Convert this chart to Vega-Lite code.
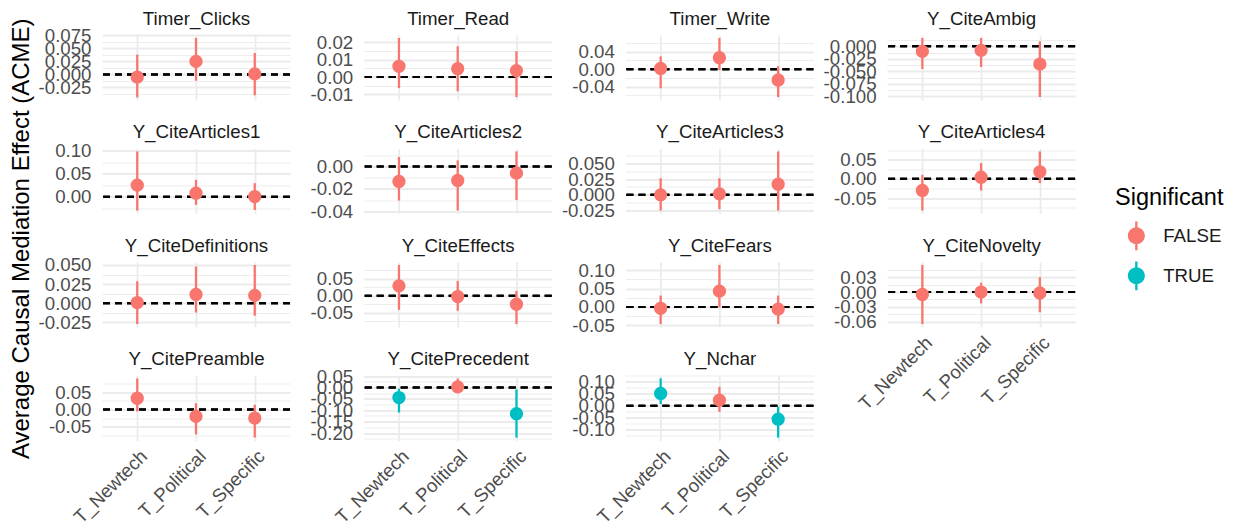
{
  "$schema": "https://vega.github.io/schema/vega-lite/v6.json",
  "background": "white",
  "padding": {"left": 10, "top": 9, "right": 5, "bottom": 5},
  "title": {"text": "Average Causal Mediation Effect (ACME)", "orient": "left", "anchor": "middle", "fontSize": 24, "color": "black", "fontWeight": "normal", "offset": 4, "dx": 29},
  "datasets": {
    "acme": [
      {"outcome": "Timer_Clicks", "treatment": "T_Newtech", "acme": -0.005, "lower": -0.044, "upper": 0.038, "sig": "FALSE"},
      {"outcome": "Timer_Clicks", "treatment": "T_Political", "acme": 0.025, "lower": -0.012, "upper": 0.070, "sig": "FALSE"},
      {"outcome": "Timer_Clicks", "treatment": "T_Specific", "acme": 0.001, "lower": -0.040, "upper": 0.041, "sig": "FALSE"},
      {"outcome": "Timer_Read", "treatment": "T_Newtech", "acme": 0.0062, "lower": -0.0064, "upper": 0.0226, "sig": "FALSE"},
      {"outcome": "Timer_Read", "treatment": "T_Political", "acme": 0.0048, "lower": -0.0083, "upper": 0.0178, "sig": "FALSE"},
      {"outcome": "Timer_Read", "treatment": "T_Specific", "acme": 0.0037, "lower": -0.0116, "upper": 0.0149, "sig": "FALSE"},
      {"outcome": "Timer_Write", "treatment": "T_Newtech", "acme": 0.0015, "lower": -0.0434, "upper": 0.029, "sig": "FALSE"},
      {"outcome": "Timer_Write", "treatment": "T_Political", "acme": 0.026, "lower": -0.0022, "upper": 0.071, "sig": "FALSE"},
      {"outcome": "Timer_Write", "treatment": "T_Specific", "acme": -0.0247, "lower": -0.0636, "upper": 0.0067, "sig": "FALSE"},
      {"outcome": "Y_CiteAmbig", "treatment": "T_Newtech", "acme": -0.010, "lower": -0.0453, "upper": 0.0167, "sig": "FALSE"},
      {"outcome": "Y_CiteAmbig", "treatment": "T_Political", "acme": -0.008, "lower": -0.0413, "upper": 0.0167, "sig": "FALSE"},
      {"outcome": "Y_CiteAmbig", "treatment": "T_Specific", "acme": -0.0353, "lower": -0.101, "upper": 0.010, "sig": "FALSE"},
      {"outcome": "Y_CiteArticles1", "treatment": "T_Newtech", "acme": 0.0254, "lower": -0.0297, "upper": 0.0986, "sig": "FALSE"},
      {"outcome": "Y_CiteArticles1", "treatment": "T_Political", "acme": 0.008, "lower": -0.0174, "upper": 0.037, "sig": "FALSE"},
      {"outcome": "Y_CiteArticles1", "treatment": "T_Specific", "acme": 0.0007, "lower": -0.0283, "upper": 0.0297, "sig": "FALSE"},
      {"outcome": "Y_CiteArticles2", "treatment": "T_Newtech", "acme": -0.0134, "lower": -0.0304, "upper": 0.0084, "sig": "FALSE"},
      {"outcome": "Y_CiteArticles2", "treatment": "T_Political", "acme": -0.0125, "lower": -0.0394, "upper": 0.0054, "sig": "FALSE"},
      {"outcome": "Y_CiteArticles2", "treatment": "T_Specific", "acme": -0.006, "lower": -0.0299, "upper": 0.0134, "sig": "FALSE"},
      {"outcome": "Y_CiteArticles3", "treatment": "T_Newtech", "acme": 0.0, "lower": -0.0248, "upper": 0.0264, "sig": "FALSE"},
      {"outcome": "Y_CiteArticles3", "treatment": "T_Political", "acme": 0.0016, "lower": -0.0227, "upper": 0.0264, "sig": "FALSE"},
      {"outcome": "Y_CiteArticles3", "treatment": "T_Specific", "acme": 0.0169, "lower": -0.0248, "upper": 0.0687, "sig": "FALSE"},
      {"outcome": "Y_CiteArticles4", "treatment": "T_Newtech", "acme": -0.0304, "lower": -0.0826, "upper": 0.0104, "sig": "FALSE"},
      {"outcome": "Y_CiteArticles4", "treatment": "T_Political", "acme": 0.0043, "lower": -0.0304, "upper": 0.041, "sig": "FALSE"},
      {"outcome": "Y_CiteArticles4", "treatment": "T_Specific", "acme": 0.0183, "lower": -0.0113, "upper": 0.0713, "sig": "FALSE"},
      {"outcome": "Y_CiteDefinitions", "treatment": "T_Newtech", "acme": 0.001, "lower": -0.027, "upper": 0.0287, "sig": "FALSE"},
      {"outcome": "Y_CiteDefinitions", "treatment": "T_Political", "acme": 0.0116, "lower": -0.012, "upper": 0.048, "sig": "FALSE"},
      {"outcome": "Y_CiteDefinitions", "treatment": "T_Specific", "acme": 0.0103, "lower": -0.0163, "upper": 0.050, "sig": "FALSE"},
      {"outcome": "Y_CiteEffects", "treatment": "T_Newtech", "acme": 0.0294, "lower": -0.0412, "upper": 0.091, "sig": "FALSE"},
      {"outcome": "Y_CiteEffects", "treatment": "T_Political", "acme": -0.002, "lower": -0.044, "upper": 0.044, "sig": "FALSE"},
      {"outcome": "Y_CiteEffects", "treatment": "T_Specific", "acme": -0.0245, "lower": -0.083, "upper": 0.0147, "sig": "FALSE"},
      {"outcome": "Y_CiteFears", "treatment": "T_Newtech", "acme": -0.0036, "lower": -0.0464, "upper": 0.031, "sig": "FALSE"},
      {"outcome": "Y_CiteFears", "treatment": "T_Political", "acme": 0.0429, "lower": -0.001, "upper": 0.114, "sig": "FALSE"},
      {"outcome": "Y_CiteFears", "treatment": "T_Specific", "acme": -0.006, "lower": -0.046, "upper": 0.031, "sig": "FALSE"},
      {"outcome": "Y_CiteNovelty", "treatment": "T_Newtech", "acme": -0.005, "lower": -0.065, "upper": 0.055, "sig": "FALSE"},
      {"outcome": "Y_CiteNovelty", "treatment": "T_Political", "acme": 0.0, "lower": -0.023, "upper": 0.019, "sig": "FALSE"},
      {"outcome": "Y_CiteNovelty", "treatment": "T_Specific", "acme": -0.002, "lower": -0.041, "upper": 0.030, "sig": "FALSE"},
      {"outcome": "Y_CitePreamble", "treatment": "T_Newtech", "acme": 0.0324, "lower": -0.0057, "upper": 0.0895, "sig": "FALSE"},
      {"outcome": "Y_CitePreamble", "treatment": "T_Political", "acme": -0.020, "lower": -0.072, "upper": 0.018, "sig": "FALSE"},
      {"outcome": "Y_CitePreamble", "treatment": "T_Specific", "acme": -0.0248, "lower": -0.081, "upper": 0.0133, "sig": "FALSE"},
      {"outcome": "Y_CitePrecedent", "treatment": "T_Newtech", "acme": -0.044, "lower": -0.110, "upper": -0.005, "sig": "TRUE"},
      {"outcome": "Y_CitePrecedent", "treatment": "T_Political", "acme": 0.003, "lower": -0.020, "upper": 0.040, "sig": "FALSE"},
      {"outcome": "Y_CitePrecedent", "treatment": "T_Specific", "acme": -0.115, "lower": -0.220, "upper": -0.008, "sig": "TRUE"},
      {"outcome": "Y_Nchar", "treatment": "T_Newtech", "acme": 0.0514, "lower": 0.007, "upper": 0.114, "sig": "TRUE"},
      {"outcome": "Y_Nchar", "treatment": "T_Political", "acme": 0.0236, "lower": -0.025, "upper": 0.079, "sig": "FALSE"},
      {"outcome": "Y_Nchar", "treatment": "T_Specific", "acme": -0.0556, "lower": -0.132, "upper": -0.003, "sig": "TRUE"}
    ]
  },
  "data": {"name": "acme"},
  "columns": 4,
  "bounds": "flush",
  "spacing": {"row": 48.5, "column": 73.7},
  "resolve": {"scale": {"color": "shared"}, "legend": {"color": "shared"}},
  "concat": [
    {
      "width": 188, "height": 65,
      "transform": [{"filter": "datum.outcome === 'Timer_Clicks'"}],
      "resolve": {"axis": {"x": "independent"}},
      "encoding": {"y": {"field": "acme", "type": "quantitative", "title": null,
        "scale": {"domain": [-0.049, 0.0756], "nice": false, "zero": false},
        "axis": {"values": [-0.025, 0, 0.025, 0.05, 0.075, -0.0375, -0.0125, 0.0125, 0.0375, 0.0625],
          "labelExpr": "indexof([-0.025, 0, 0.025, 0.05, 0.075], datum.value) >= 0 ? replace(format(datum.value, '.3f'), '\u2212', '-') : ''",
          "gridWidth": {"condition": {"test": "indexof([-0.025, 0, 0.025, 0.05, 0.075], datum.value) >= 0", "value": 1.8}, "value": 0.9}}}},
      "layer": [
        {"mark": {"type": "rule", "color": "black", "strokeWidth": 2, "strokeDash": [7, 5]}, "encoding": {"y": {"datum": 0}}},
        {"mark": {"type": "rule", "strokeWidth": 2.3}, "encoding": {
          "x": {"field": "treatment", "type": "nominal", "title": null, "scale": {"type": "point", "padding": 0.6, "domain": ["T_Newtech", "T_Political", "T_Specific"]}, "axis": {"orient": "bottom", "labels": false, "grid": true, "gridWidth": 1.8}},
          "y": {"field": "lower", "type": "quantitative", "title": null}, "y2": {"field": "upper"},
          "color": {"field": "sig", "type": "nominal", "title": "Significant", "scale": {"domain": ["FALSE", "TRUE"], "range": ["#F8766D", "#00BFC4"]}}}},
        {"mark": {"type": "circle", "size": 177, "opacity": 1}, "encoding": {
          "x": {"field": "treatment", "type": "nominal", "scale": {"type": "point", "padding": 0.6, "domain": ["T_Newtech", "T_Political", "T_Specific"]}, "axis": {"orient": "top", "title": "Timer_Clicks", "labels": false, "grid": false}},
          "color": {"field": "sig", "type": "nominal", "title": "Significant", "scale": {"domain": ["FALSE", "TRUE"], "range": ["#F8766D", "#00BFC4"]}}}}
      ]
    },
    {
      "width": 188, "height": 65,
      "transform": [{"filter": "datum.outcome === 'Timer_Read'"}],
      "resolve": {"axis": {"x": "independent"}},
      "encoding": {"y": {"field": "acme", "type": "quantitative", "title": null,
        "scale": {"domain": [-0.0133, 0.0243], "nice": false, "zero": false},
        "axis": {"values": [-0.01, 0, 0.01, 0.02, -0.005, 0.005, 0.015],
          "labelExpr": "indexof([-0.01, 0, 0.01, 0.02], datum.value) >= 0 ? replace(format(datum.value, '.2f'), '\u2212', '-') : ''",
          "gridWidth": {"condition": {"test": "indexof([-0.01, 0, 0.01, 0.02], datum.value) >= 0", "value": 1.8}, "value": 0.9}}}},
      "layer": [
        {"mark": {"type": "rule", "color": "black", "strokeWidth": 2, "strokeDash": [7, 5]}, "encoding": {"y": {"datum": 0}}},
        {"mark": {"type": "rule", "strokeWidth": 2.3}, "encoding": {
          "x": {"field": "treatment", "type": "nominal", "title": null, "scale": {"type": "point", "padding": 0.6, "domain": ["T_Newtech", "T_Political", "T_Specific"]}, "axis": {"orient": "bottom", "labels": false, "grid": true, "gridWidth": 1.8}},
          "y": {"field": "lower", "type": "quantitative", "title": null}, "y2": {"field": "upper"},
          "color": {"field": "sig", "type": "nominal", "title": "Significant", "scale": {"domain": ["FALSE", "TRUE"], "range": ["#F8766D", "#00BFC4"]}}}},
        {"mark": {"type": "circle", "size": 177, "opacity": 1}, "encoding": {
          "x": {"field": "treatment", "type": "nominal", "scale": {"type": "point", "padding": 0.6, "domain": ["T_Newtech", "T_Political", "T_Specific"]}, "axis": {"orient": "top", "title": "Timer_Read", "labels": false, "grid": false}},
          "color": {"field": "sig", "type": "nominal", "title": "Significant", "scale": {"domain": ["FALSE", "TRUE"], "range": ["#F8766D", "#00BFC4"]}}}}
      ]
    },
    {
      "width": 188, "height": 65,
      "transform": [{"filter": "datum.outcome === 'Timer_Write'"}],
      "resolve": {"axis": {"x": "independent"}},
      "encoding": {"y": {"field": "acme", "type": "quantitative", "title": null,
        "scale": {"domain": [-0.0703, 0.0777], "nice": false, "zero": false},
        "axis": {"values": [-0.04, 0, 0.04, -0.06, -0.02, 0.02, 0.06],
          "labelExpr": "indexof([-0.04, 0, 0.04], datum.value) >= 0 ? replace(format(datum.value, '.2f'), '\u2212', '-') : ''",
          "gridWidth": {"condition": {"test": "indexof([-0.04, 0, 0.04], datum.value) >= 0", "value": 1.8}, "value": 0.9}}}},
      "layer": [
        {"mark": {"type": "rule", "color": "black", "strokeWidth": 2, "strokeDash": [7, 5]}, "encoding": {"y": {"datum": 0}}},
        {"mark": {"type": "rule", "strokeWidth": 2.3}, "encoding": {
          "x": {"field": "treatment", "type": "nominal", "title": null, "scale": {"type": "point", "padding": 0.6, "domain": ["T_Newtech", "T_Political", "T_Specific"]}, "axis": {"orient": "bottom", "labels": false, "grid": true, "gridWidth": 1.8}},
          "y": {"field": "lower", "type": "quantitative", "title": null}, "y2": {"field": "upper"},
          "color": {"field": "sig", "type": "nominal", "title": "Significant", "scale": {"domain": ["FALSE", "TRUE"], "range": ["#F8766D", "#00BFC4"]}}}},
        {"mark": {"type": "circle", "size": 177, "opacity": 1}, "encoding": {
          "x": {"field": "treatment", "type": "nominal", "scale": {"type": "point", "padding": 0.6, "domain": ["T_Newtech", "T_Political", "T_Specific"]}, "axis": {"orient": "top", "title": "Timer_Write", "labels": false, "grid": false}},
          "color": {"field": "sig", "type": "nominal", "title": "Significant", "scale": {"domain": ["FALSE", "TRUE"], "range": ["#F8766D", "#00BFC4"]}}}}
      ]
    },
    {
      "width": 188, "height": 65,
      "transform": [{"filter": "datum.outcome === 'Y_CiteAmbig'"}],
      "resolve": {"axis": {"x": "independent"}},
      "encoding": {"y": {"field": "acme", "type": "quantitative", "title": null,
        "scale": {"domain": [-0.107, 0.0226], "nice": false, "zero": false},
        "axis": {"values": [-0.1, -0.075, -0.05, -0.025, 0, -0.0875, -0.0625, -0.0375, -0.0125, 0.0125],
          "labelExpr": "indexof([-0.1, -0.075, -0.05, -0.025, 0], datum.value) >= 0 ? replace(format(datum.value, '.3f'), '\u2212', '-') : ''",
          "gridWidth": {"condition": {"test": "indexof([-0.1, -0.075, -0.05, -0.025, 0], datum.value) >= 0", "value": 1.8}, "value": 0.9}}}},
      "layer": [
        {"mark": {"type": "rule", "color": "black", "strokeWidth": 2, "strokeDash": [7, 5]}, "encoding": {"y": {"datum": 0}}},
        {"mark": {"type": "rule", "strokeWidth": 2.3}, "encoding": {
          "x": {"field": "treatment", "type": "nominal", "title": null, "scale": {"type": "point", "padding": 0.6, "domain": ["T_Newtech", "T_Political", "T_Specific"]}, "axis": {"orient": "bottom", "labels": false, "grid": true, "gridWidth": 1.8}},
          "y": {"field": "lower", "type": "quantitative", "title": null}, "y2": {"field": "upper"},
          "color": {"field": "sig", "type": "nominal", "title": "Significant", "scale": {"domain": ["FALSE", "TRUE"], "range": ["#F8766D", "#00BFC4"]}}}},
        {"mark": {"type": "circle", "size": 177, "opacity": 1}, "encoding": {
          "x": {"field": "treatment", "type": "nominal", "scale": {"type": "point", "padding": 0.6, "domain": ["T_Newtech", "T_Political", "T_Specific"]}, "axis": {"orient": "top", "title": "Y_CiteAmbig", "labels": false, "grid": false}},
          "color": {"field": "sig", "type": "nominal", "title": "Significant", "scale": {"domain": ["FALSE", "TRUE"], "range": ["#F8766D", "#00BFC4"]}}}}
      ]
    },
    {
      "width": 188, "height": 65,
      "transform": [{"filter": "datum.outcome === 'Y_CiteArticles1'"}],
      "resolve": {"axis": {"x": "independent"}},
      "encoding": {"y": {"field": "acme", "type": "quantitative", "title": null,
        "scale": {"domain": [-0.0361, 0.105], "nice": false, "zero": false},
        "axis": {"values": [0, 0.05, 0.1, -0.025, 0.025, 0.075],
          "labelExpr": "indexof([0, 0.05, 0.1], datum.value) >= 0 ? replace(format(datum.value, '.2f'), '\u2212', '-') : ''",
          "gridWidth": {"condition": {"test": "indexof([0, 0.05, 0.1], datum.value) >= 0", "value": 1.8}, "value": 0.9}}}},
      "layer": [
        {"mark": {"type": "rule", "color": "black", "strokeWidth": 2, "strokeDash": [7, 5]}, "encoding": {"y": {"datum": 0}}},
        {"mark": {"type": "rule", "strokeWidth": 2.3}, "encoding": {
          "x": {"field": "treatment", "type": "nominal", "title": null, "scale": {"type": "point", "padding": 0.6, "domain": ["T_Newtech", "T_Political", "T_Specific"]}, "axis": {"orient": "bottom", "labels": false, "grid": true, "gridWidth": 1.8}},
          "y": {"field": "lower", "type": "quantitative", "title": null}, "y2": {"field": "upper"},
          "color": {"field": "sig", "type": "nominal", "title": "Significant", "scale": {"domain": ["FALSE", "TRUE"], "range": ["#F8766D", "#00BFC4"]}}}},
        {"mark": {"type": "circle", "size": 177, "opacity": 1}, "encoding": {
          "x": {"field": "treatment", "type": "nominal", "scale": {"type": "point", "padding": 0.6, "domain": ["T_Newtech", "T_Political", "T_Specific"]}, "axis": {"orient": "top", "title": "Y_CiteArticles1", "labels": false, "grid": false}},
          "color": {"field": "sig", "type": "nominal", "title": "Significant", "scale": {"domain": ["FALSE", "TRUE"], "range": ["#F8766D", "#00BFC4"]}}}}
      ]
    },
    {
      "width": 188, "height": 65,
      "transform": [{"filter": "datum.outcome === 'Y_CiteArticles2'"}],
      "resolve": {"axis": {"x": "independent"}},
      "encoding": {"y": {"field": "acme", "type": "quantitative", "title": null,
        "scale": {"domain": [-0.042, 0.016], "nice": false, "zero": false},
        "axis": {"values": [-0.04, -0.02, 0, -0.03, -0.01, 0.01],
          "labelExpr": "indexof([-0.04, -0.02, 0], datum.value) >= 0 ? replace(format(datum.value, '.2f'), '\u2212', '-') : ''",
          "gridWidth": {"condition": {"test": "indexof([-0.04, -0.02, 0], datum.value) >= 0", "value": 1.8}, "value": 0.9}}}},
      "layer": [
        {"mark": {"type": "rule", "color": "black", "strokeWidth": 2, "strokeDash": [7, 5]}, "encoding": {"y": {"datum": 0}}},
        {"mark": {"type": "rule", "strokeWidth": 2.3}, "encoding": {
          "x": {"field": "treatment", "type": "nominal", "title": null, "scale": {"type": "point", "padding": 0.6, "domain": ["T_Newtech", "T_Political", "T_Specific"]}, "axis": {"orient": "bottom", "labels": false, "grid": true, "gridWidth": 1.8}},
          "y": {"field": "lower", "type": "quantitative", "title": null}, "y2": {"field": "upper"},
          "color": {"field": "sig", "type": "nominal", "title": "Significant", "scale": {"domain": ["FALSE", "TRUE"], "range": ["#F8766D", "#00BFC4"]}}}},
        {"mark": {"type": "circle", "size": 177, "opacity": 1}, "encoding": {
          "x": {"field": "treatment", "type": "nominal", "scale": {"type": "point", "padding": 0.6, "domain": ["T_Newtech", "T_Political", "T_Specific"]}, "axis": {"orient": "top", "title": "Y_CiteArticles2", "labels": false, "grid": false}},
          "color": {"field": "sig", "type": "nominal", "title": "Significant", "scale": {"domain": ["FALSE", "TRUE"], "range": ["#F8766D", "#00BFC4"]}}}}
      ]
    },
    {
      "width": 188, "height": 65,
      "transform": [{"filter": "datum.outcome === 'Y_CiteArticles3'"}],
      "resolve": {"axis": {"x": "independent"}},
      "encoding": {"y": {"field": "acme", "type": "quantitative", "title": null,
        "scale": {"domain": [-0.0295, 0.0734], "nice": false, "zero": false},
        "axis": {"values": [-0.025, 0, 0.025, 0.05, -0.0125, 0.0125, 0.0375, 0.0625],
          "labelExpr": "indexof([-0.025, 0, 0.025, 0.05], datum.value) >= 0 ? replace(format(datum.value, '.3f'), '\u2212', '-') : ''",
          "gridWidth": {"condition": {"test": "indexof([-0.025, 0, 0.025, 0.05], datum.value) >= 0", "value": 1.8}, "value": 0.9}}}},
      "layer": [
        {"mark": {"type": "rule", "color": "black", "strokeWidth": 2, "strokeDash": [7, 5]}, "encoding": {"y": {"datum": 0}}},
        {"mark": {"type": "rule", "strokeWidth": 2.3}, "encoding": {
          "x": {"field": "treatment", "type": "nominal", "title": null, "scale": {"type": "point", "padding": 0.6, "domain": ["T_Newtech", "T_Political", "T_Specific"]}, "axis": {"orient": "bottom", "labels": false, "grid": true, "gridWidth": 1.8}},
          "y": {"field": "lower", "type": "quantitative", "title": null}, "y2": {"field": "upper"},
          "color": {"field": "sig", "type": "nominal", "title": "Significant", "scale": {"domain": ["FALSE", "TRUE"], "range": ["#F8766D", "#00BFC4"]}}}},
        {"mark": {"type": "circle", "size": 177, "opacity": 1}, "encoding": {
          "x": {"field": "treatment", "type": "nominal", "scale": {"type": "point", "padding": 0.6, "domain": ["T_Newtech", "T_Political", "T_Specific"]}, "axis": {"orient": "top", "title": "Y_CiteArticles3", "labels": false, "grid": false}},
          "color": {"field": "sig", "type": "nominal", "title": "Significant", "scale": {"domain": ["FALSE", "TRUE"], "range": ["#F8766D", "#00BFC4"]}}}}
      ]
    },
    {
      "width": 188, "height": 65,
      "transform": [{"filter": "datum.outcome === 'Y_CiteArticles4'"}],
      "resolve": {"axis": {"x": "independent"}},
      "encoding": {"y": {"field": "acme", "type": "quantitative", "title": null,
        "scale": {"domain": [-0.0903, 0.079], "nice": false, "zero": false},
        "axis": {"values": [-0.05, 0, 0.05, -0.075, -0.025, 0.025, 0.075],
          "labelExpr": "indexof([-0.05, 0, 0.05], datum.value) >= 0 ? replace(format(datum.value, '.2f'), '\u2212', '-') : ''",
          "gridWidth": {"condition": {"test": "indexof([-0.05, 0, 0.05], datum.value) >= 0", "value": 1.8}, "value": 0.9}}}},
      "layer": [
        {"mark": {"type": "rule", "color": "black", "strokeWidth": 2, "strokeDash": [7, 5]}, "encoding": {"y": {"datum": 0}}},
        {"mark": {"type": "rule", "strokeWidth": 2.3}, "encoding": {
          "x": {"field": "treatment", "type": "nominal", "title": null, "scale": {"type": "point", "padding": 0.6, "domain": ["T_Newtech", "T_Political", "T_Specific"]}, "axis": {"orient": "bottom", "labels": false, "grid": true, "gridWidth": 1.8}},
          "y": {"field": "lower", "type": "quantitative", "title": null}, "y2": {"field": "upper"},
          "color": {"field": "sig", "type": "nominal", "title": "Significant", "scale": {"domain": ["FALSE", "TRUE"], "range": ["#F8766D", "#00BFC4"]}}}},
        {"mark": {"type": "circle", "size": 177, "opacity": 1}, "encoding": {
          "x": {"field": "treatment", "type": "nominal", "scale": {"type": "point", "padding": 0.6, "domain": ["T_Newtech", "T_Political", "T_Specific"]}, "axis": {"orient": "top", "title": "Y_CiteArticles4", "labels": false, "grid": false}},
          "color": {"field": "sig", "type": "nominal", "title": "Significant", "scale": {"domain": ["FALSE", "TRUE"], "range": ["#F8766D", "#00BFC4"]}}}}
      ]
    },
    {
      "width": 188, "height": 65,
      "transform": [{"filter": "datum.outcome === 'Y_CiteDefinitions'"}],
      "resolve": {"axis": {"x": "independent"}},
      "encoding": {"y": {"field": "acme", "type": "quantitative", "title": null,
        "scale": {"domain": [-0.0309, 0.0539], "nice": false, "zero": false},
        "axis": {"values": [-0.025, 0, 0.025, 0.05, -0.0125, 0.0125, 0.0375],
          "labelExpr": "indexof([-0.025, 0, 0.025, 0.05], datum.value) >= 0 ? replace(format(datum.value, '.3f'), '\u2212', '-') : ''",
          "gridWidth": {"condition": {"test": "indexof([-0.025, 0, 0.025, 0.05], datum.value) >= 0", "value": 1.8}, "value": 0.9}}}},
      "layer": [
        {"mark": {"type": "rule", "color": "black", "strokeWidth": 2, "strokeDash": [7, 5]}, "encoding": {"y": {"datum": 0}}},
        {"mark": {"type": "rule", "strokeWidth": 2.3}, "encoding": {
          "x": {"field": "treatment", "type": "nominal", "title": null, "scale": {"type": "point", "padding": 0.6, "domain": ["T_Newtech", "T_Political", "T_Specific"]}, "axis": {"orient": "bottom", "labels": false, "grid": true, "gridWidth": 1.8}},
          "y": {"field": "lower", "type": "quantitative", "title": null}, "y2": {"field": "upper"},
          "color": {"field": "sig", "type": "nominal", "title": "Significant", "scale": {"domain": ["FALSE", "TRUE"], "range": ["#F8766D", "#00BFC4"]}}}},
        {"mark": {"type": "circle", "size": 177, "opacity": 1}, "encoding": {
          "x": {"field": "treatment", "type": "nominal", "scale": {"type": "point", "padding": 0.6, "domain": ["T_Newtech", "T_Political", "T_Specific"]}, "axis": {"orient": "top", "title": "Y_CiteDefinitions", "labels": false, "grid": false}},
          "color": {"field": "sig", "type": "nominal", "title": "Significant", "scale": {"domain": ["FALSE", "TRUE"], "range": ["#F8766D", "#00BFC4"]}}}}
      ]
    },
    {
      "width": 188, "height": 65,
      "transform": [{"filter": "datum.outcome === 'Y_CiteEffects'"}],
      "resolve": {"axis": {"x": "independent"}},
      "encoding": {"y": {"field": "acme", "type": "quantitative", "title": null,
        "scale": {"domain": [-0.0917, 0.0997], "nice": false, "zero": false},
        "axis": {"values": [-0.05, 0, 0.05, -0.075, -0.025, 0.025, 0.075],
          "labelExpr": "indexof([-0.05, 0, 0.05], datum.value) >= 0 ? replace(format(datum.value, '.2f'), '\u2212', '-') : ''",
          "gridWidth": {"condition": {"test": "indexof([-0.05, 0, 0.05], datum.value) >= 0", "value": 1.8}, "value": 0.9}}}},
      "layer": [
        {"mark": {"type": "rule", "color": "black", "strokeWidth": 2, "strokeDash": [7, 5]}, "encoding": {"y": {"datum": 0}}},
        {"mark": {"type": "rule", "strokeWidth": 2.3}, "encoding": {
          "x": {"field": "treatment", "type": "nominal", "title": null, "scale": {"type": "point", "padding": 0.6, "domain": ["T_Newtech", "T_Political", "T_Specific"]}, "axis": {"orient": "bottom", "labels": false, "grid": true, "gridWidth": 1.8}},
          "y": {"field": "lower", "type": "quantitative", "title": null}, "y2": {"field": "upper"},
          "color": {"field": "sig", "type": "nominal", "title": "Significant", "scale": {"domain": ["FALSE", "TRUE"], "range": ["#F8766D", "#00BFC4"]}}}},
        {"mark": {"type": "circle", "size": 177, "opacity": 1}, "encoding": {
          "x": {"field": "treatment", "type": "nominal", "scale": {"type": "point", "padding": 0.6, "domain": ["T_Newtech", "T_Political", "T_Specific"]}, "axis": {"orient": "top", "title": "Y_CiteEffects", "labels": false, "grid": false}},
          "color": {"field": "sig", "type": "nominal", "title": "Significant", "scale": {"domain": ["FALSE", "TRUE"], "range": ["#F8766D", "#00BFC4"]}}}}
      ]
    },
    {
      "width": 188, "height": 65,
      "transform": [{"filter": "datum.outcome === 'Y_CiteFears'"}],
      "resolve": {"axis": {"x": "independent"}},
      "encoding": {"y": {"field": "acme", "type": "quantitative", "title": null,
        "scale": {"domain": [-0.0544, 0.122], "nice": false, "zero": false},
        "axis": {"values": [-0.05, 0, 0.05, 0.1, -0.025, 0.025, 0.075],
          "labelExpr": "indexof([-0.05, 0, 0.05, 0.1], datum.value) >= 0 ? replace(format(datum.value, '.2f'), '\u2212', '-') : ''",
          "gridWidth": {"condition": {"test": "indexof([-0.05, 0, 0.05, 0.1], datum.value) >= 0", "value": 1.8}, "value": 0.9}}}},
      "layer": [
        {"mark": {"type": "rule", "color": "black", "strokeWidth": 2, "strokeDash": [7, 5]}, "encoding": {"y": {"datum": 0}}},
        {"mark": {"type": "rule", "strokeWidth": 2.3}, "encoding": {
          "x": {"field": "treatment", "type": "nominal", "title": null, "scale": {"type": "point", "padding": 0.6, "domain": ["T_Newtech", "T_Political", "T_Specific"]}, "axis": {"orient": "bottom", "labels": false, "grid": true, "gridWidth": 1.8}},
          "y": {"field": "lower", "type": "quantitative", "title": null}, "y2": {"field": "upper"},
          "color": {"field": "sig", "type": "nominal", "title": "Significant", "scale": {"domain": ["FALSE", "TRUE"], "range": ["#F8766D", "#00BFC4"]}}}},
        {"mark": {"type": "circle", "size": 177, "opacity": 1}, "encoding": {
          "x": {"field": "treatment", "type": "nominal", "scale": {"type": "point", "padding": 0.6, "domain": ["T_Newtech", "T_Political", "T_Specific"]}, "axis": {"orient": "top", "title": "Y_CiteFears", "labels": false, "grid": false}},
          "color": {"field": "sig", "type": "nominal", "title": "Significant", "scale": {"domain": ["FALSE", "TRUE"], "range": ["#F8766D", "#00BFC4"]}}}}
      ]
    },
    {
      "width": 188, "height": 65,
      "transform": [{"filter": "datum.outcome === 'Y_CiteNovelty'"}],
      "resolve": {"axis": {"x": "independent"}},
      "encoding": {"y": {"field": "acme", "type": "quantitative", "title": null,
        "scale": {"domain": [-0.071, 0.061], "nice": false, "zero": false},
        "axis": {"values": [-0.06, -0.03, 0, 0.03, -0.045, -0.015, 0.015, 0.045],
          "labelExpr": "indexof([-0.06, -0.03, 0, 0.03], datum.value) >= 0 ? replace(format(datum.value, '.2f'), '\u2212', '-') : ''",
          "gridWidth": {"condition": {"test": "indexof([-0.06, -0.03, 0, 0.03], datum.value) >= 0", "value": 1.8}, "value": 0.9}}}},
      "layer": [
        {"mark": {"type": "rule", "color": "black", "strokeWidth": 2, "strokeDash": [7, 5]}, "encoding": {"y": {"datum": 0}}},
        {"mark": {"type": "rule", "strokeWidth": 2.3}, "encoding": {
          "x": {"field": "treatment", "type": "nominal", "title": null, "scale": {"type": "point", "padding": 0.6, "domain": ["T_Newtech", "T_Political", "T_Specific"]}, "axis": {"orient": "bottom", "labelAngle": -45, "labelAlign": "right", "labelBaseline": "top", "labelPadding": 6, "grid": true, "gridWidth": 1.8}},
          "y": {"field": "lower", "type": "quantitative", "title": null}, "y2": {"field": "upper"},
          "color": {"field": "sig", "type": "nominal", "title": "Significant", "scale": {"domain": ["FALSE", "TRUE"], "range": ["#F8766D", "#00BFC4"]}}}},
        {"mark": {"type": "circle", "size": 177, "opacity": 1}, "encoding": {
          "x": {"field": "treatment", "type": "nominal", "scale": {"type": "point", "padding": 0.6, "domain": ["T_Newtech", "T_Political", "T_Specific"]}, "axis": {"orient": "top", "title": "Y_CiteNovelty", "labels": false, "grid": false}},
          "color": {"field": "sig", "type": "nominal", "title": "Significant", "scale": {"domain": ["FALSE", "TRUE"], "range": ["#F8766D", "#00BFC4"]}}}}
      ]
    },
    {
      "width": 188, "height": 65,
      "transform": [{"filter": "datum.outcome === 'Y_CitePreamble'"}],
      "resolve": {"axis": {"x": "independent"}},
      "encoding": {"y": {"field": "acme", "type": "quantitative", "title": null,
        "scale": {"domain": [-0.0895, 0.098], "nice": false, "zero": false},
        "axis": {"values": [-0.05, 0, 0.05, -0.075, -0.025, 0.025, 0.075],
          "labelExpr": "indexof([-0.05, 0, 0.05], datum.value) >= 0 ? replace(format(datum.value, '.2f'), '\u2212', '-') : ''",
          "gridWidth": {"condition": {"test": "indexof([-0.05, 0, 0.05], datum.value) >= 0", "value": 1.8}, "value": 0.9}}}},
      "layer": [
        {"mark": {"type": "rule", "color": "black", "strokeWidth": 2, "strokeDash": [7, 5]}, "encoding": {"y": {"datum": 0}}},
        {"mark": {"type": "rule", "strokeWidth": 2.3}, "encoding": {
          "x": {"field": "treatment", "type": "nominal", "title": null, "scale": {"type": "point", "padding": 0.6, "domain": ["T_Newtech", "T_Political", "T_Specific"]}, "axis": {"orient": "bottom", "labelAngle": -45, "labelAlign": "right", "labelBaseline": "top", "labelPadding": 6, "grid": true, "gridWidth": 1.8}},
          "y": {"field": "lower", "type": "quantitative", "title": null}, "y2": {"field": "upper"},
          "color": {"field": "sig", "type": "nominal", "title": "Significant", "scale": {"domain": ["FALSE", "TRUE"], "range": ["#F8766D", "#00BFC4"]}}}},
        {"mark": {"type": "circle", "size": 177, "opacity": 1}, "encoding": {
          "x": {"field": "treatment", "type": "nominal", "scale": {"type": "point", "padding": 0.6, "domain": ["T_Newtech", "T_Political", "T_Specific"]}, "axis": {"orient": "top", "title": "Y_CitePreamble", "labels": false, "grid": false}},
          "color": {"field": "sig", "type": "nominal", "title": "Significant", "scale": {"domain": ["FALSE", "TRUE"], "range": ["#F8766D", "#00BFC4"]}}}}
      ]
    },
    {
      "width": 188, "height": 65,
      "transform": [{"filter": "datum.outcome === 'Y_CitePrecedent'"}],
      "resolve": {"axis": {"x": "independent"}},
      "encoding": {"y": {"field": "acme", "type": "quantitative", "title": null,
        "scale": {"domain": [-0.233, 0.053], "nice": false, "zero": false},
        "axis": {"values": [-0.2, -0.15, -0.1, -0.05, 0, 0.05, -0.225, -0.175, -0.125, -0.075, -0.025, 0.025],
          "labelExpr": "indexof([-0.2, -0.15, -0.1, -0.05, 0, 0.05], datum.value) >= 0 ? replace(format(datum.value, '.2f'), '\u2212', '-') : ''",
          "gridWidth": {"condition": {"test": "indexof([-0.2, -0.15, -0.1, -0.05, 0, 0.05], datum.value) >= 0", "value": 1.8}, "value": 0.9}}}},
      "layer": [
        {"mark": {"type": "rule", "color": "black", "strokeWidth": 2, "strokeDash": [7, 5]}, "encoding": {"y": {"datum": 0}}},
        {"mark": {"type": "rule", "strokeWidth": 2.3}, "encoding": {
          "x": {"field": "treatment", "type": "nominal", "title": null, "scale": {"type": "point", "padding": 0.6, "domain": ["T_Newtech", "T_Political", "T_Specific"]}, "axis": {"orient": "bottom", "labelAngle": -45, "labelAlign": "right", "labelBaseline": "top", "labelPadding": 6, "grid": true, "gridWidth": 1.8}},
          "y": {"field": "lower", "type": "quantitative", "title": null}, "y2": {"field": "upper"},
          "color": {"field": "sig", "type": "nominal", "title": "Significant", "scale": {"domain": ["FALSE", "TRUE"], "range": ["#F8766D", "#00BFC4"]}}}},
        {"mark": {"type": "circle", "size": 177, "opacity": 1}, "encoding": {
          "x": {"field": "treatment", "type": "nominal", "scale": {"type": "point", "padding": 0.6, "domain": ["T_Newtech", "T_Political", "T_Specific"]}, "axis": {"orient": "top", "title": "Y_CitePrecedent", "labels": false, "grid": false}},
          "color": {"field": "sig", "type": "nominal", "title": "Significant", "scale": {"domain": ["FALSE", "TRUE"], "range": ["#F8766D", "#00BFC4"]}}}}
      ]
    },
    {
      "width": 188, "height": 65,
      "transform": [{"filter": "datum.outcome === 'Y_Nchar'"}],
      "resolve": {"axis": {"x": "independent"}},
      "encoding": {"y": {"field": "acme", "type": "quantitative", "title": null,
        "scale": {"domain": [-0.144, 0.126], "nice": false, "zero": false},
        "axis": {"values": [-0.1, -0.05, 0, 0.05, 0.1, -0.125, -0.075, -0.025, 0.025, 0.075, 0.125],
          "labelExpr": "indexof([-0.1, -0.05, 0, 0.05, 0.1], datum.value) >= 0 ? replace(format(datum.value, '.2f'), '\u2212', '-') : ''",
          "gridWidth": {"condition": {"test": "indexof([-0.1, -0.05, 0, 0.05, 0.1], datum.value) >= 0", "value": 1.8}, "value": 0.9}}}},
      "layer": [
        {"mark": {"type": "rule", "color": "black", "strokeWidth": 2, "strokeDash": [7, 5]}, "encoding": {"y": {"datum": 0}}},
        {"mark": {"type": "rule", "strokeWidth": 2.3}, "encoding": {
          "x": {"field": "treatment", "type": "nominal", "title": null, "scale": {"type": "point", "padding": 0.6, "domain": ["T_Newtech", "T_Political", "T_Specific"]}, "axis": {"orient": "bottom", "labelAngle": -45, "labelAlign": "right", "labelBaseline": "top", "labelPadding": 6, "grid": true, "gridWidth": 1.8}},
          "y": {"field": "lower", "type": "quantitative", "title": null}, "y2": {"field": "upper"},
          "color": {"field": "sig", "type": "nominal", "title": "Significant", "scale": {"domain": ["FALSE", "TRUE"], "range": ["#F8766D", "#00BFC4"]}}}},
        {"mark": {"type": "circle", "size": 177, "opacity": 1}, "encoding": {
          "x": {"field": "treatment", "type": "nominal", "scale": {"type": "point", "padding": 0.6, "domain": ["T_Newtech", "T_Political", "T_Specific"]}, "axis": {"orient": "top", "title": "Y_Nchar", "labels": false, "grid": false}},
          "color": {"field": "sig", "type": "nominal", "title": "Significant", "scale": {"domain": ["FALSE", "TRUE"], "range": ["#F8766D", "#00BFC4"]}}}}
      ]
    }
  ],
  "config": {
    "font": "Liberation Sans",
    "view": {"stroke": null},
    "axis": {"domain": false, "ticks": false, "labelFontSize": 18.7, "labelColor": "#4D4D4D", "gridColor": "#EBEBEB", "labelPadding": 11, "labelFont": "Liberation Sans", "labelOverlap": false, "labelFlush": false, "titleFont": "Liberation Sans", "titleFontSize": 18.7, "titleFontWeight": "normal", "titleColor": "#1A1A1A", "titlePadding": 7},
    "title": {"fontSize": 18.7, "fontWeight": "normal", "color": "#1A1A1A", "font": "Liberation Sans"},
    "legend": {"orient": "none", "legendX": 1013, "legendY": 151, "titleFontSize": 23.5, "titleFontWeight": "normal", "titleColor": "black", "titleFont": "Liberation Sans", "labelFontSize": 18.7, "labelColor": "#1A1A1A", "labelFont": "Liberation Sans", "symbolType": "M-1,0A1,1,0,1,1,1,0A1,1,0,1,1,-1,0ZM-0.14,-1.7L0.14,-1.7L0.14,1.7L-0.14,1.7Z", "symbolSize": 289, "symbolStrokeWidth": 0, "symbolOffset": 12, "rowPadding": 10, "titlePadding": 17, "labelOffset": 17.5}
  }
}
